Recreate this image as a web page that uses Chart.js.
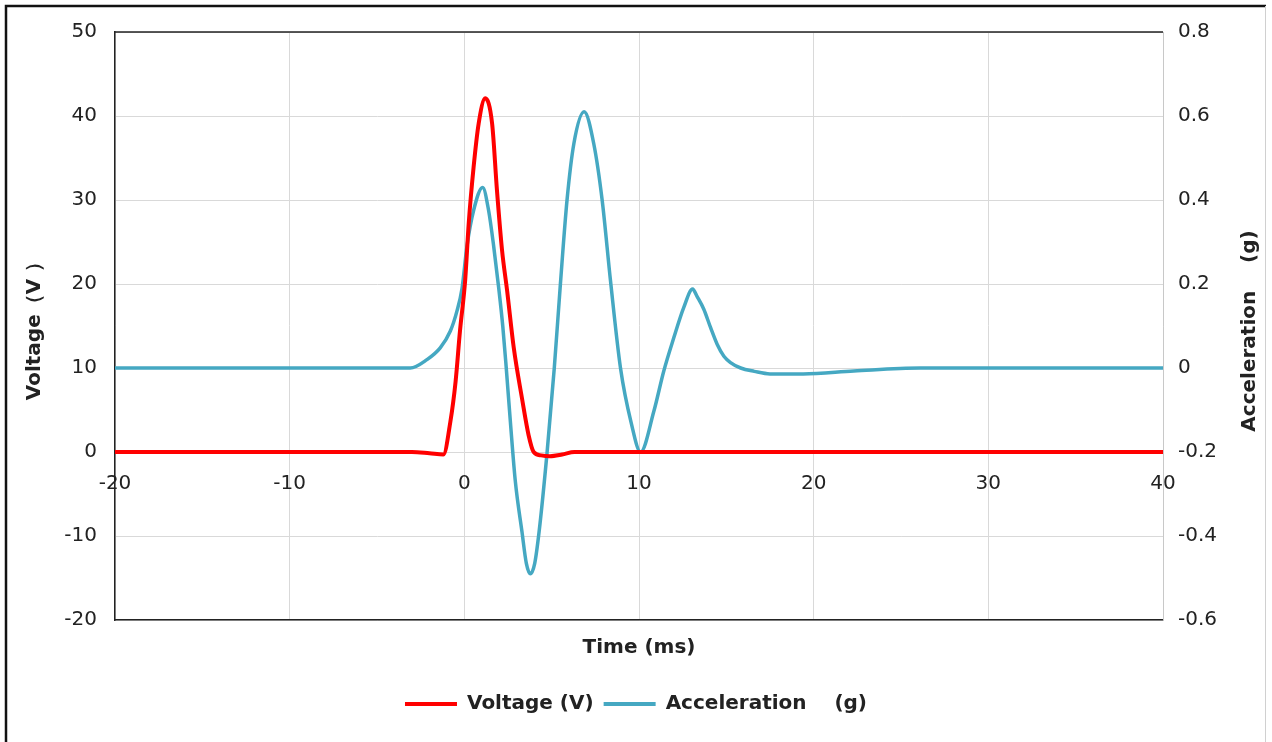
<!DOCTYPE html>
<html><head><meta charset="utf-8">
<script src="https://cdn.jsdelivr.net/npm/chart.js@4/dist/chart.umd.min.js"></script>
<style>html,body{margin:0;padding:0;background:#fff;}canvas{display:block}</style>
</head><body>
<canvas id="c" width="1272" height="742"></canvas>
<script>
// ---- data ----
const voltageTime   = [-20, -3, -2, -1.2, -0.8, -0.5, -0.25, 0.05, 0.25, 0.53, 0.82, 1.2, 1.59, 1.87, 2.16, 2.45, 2.83, 3.3, 3.68, 3.97, 4.4, 4.9, 5.6, 6.3, 40];
const voltageValues = [0, 0, -0.15, -0.3, 3.6, 8.4, 14.4, 20.5, 27.2, 33.9, 39.1, 42.1, 39.1, 31.1, 24, 19.2, 12.4, 6.4, 2.0, 0, -0.4, -0.5, -0.3, 0, 0];
const accelTime   = [-20, -3.1, -2.14, -1.38, -0.8, -0.42, -0.13, 0.15, 0.53, 1.05, 1.39, 1.68, 1.97, 2.2, 2.4, 2.64, 2.92, 3.3, 3.55, 3.78, 4.03, 4.28, 4.74, 5.15, 5.5, 5.88, 6.27, 6.86, 7.41, 7.89, 8.37, 8.94, 9.55, 10.09, 10.85, 11.42, 12.0, 12.57, 13.07, 13.33, 13.71, 14.1, 14.48, 14.86, 15.24, 15.82, 16.6, 17.5, 19.4, 22.3, 26.1, 40];
const accelValues = [0, 0, 0.02, 0.048, 0.088, 0.136, 0.19, 0.29, 0.375, 0.43, 0.375, 0.29, 0.19, 0.1, 0.0, -0.13, -0.27, -0.39, -0.465, -0.49, -0.465, -0.39, -0.2, 0, 0.2, 0.4, 0.534, 0.61, 0.534, 0.4, 0.207, 0, -0.13, -0.2, -0.103, -0.007, 0.073, 0.145, 0.188, 0.17, 0.14, 0.096, 0.056, 0.028, 0.013, 0.0, -0.008, -0.014, -0.014, -0.007, 0, 0];
const timeTicks    = [-20, -10, 0, 10, 20, 30, 40];
const voltageTicks = [-20, -10, 0, 10, 20, 30, 40, 50];
const accelTicks   = [-0.6, -0.4, -0.2, 0, 0.2, 0.4, 0.6, 0.8];
const seriesNames  = ['Voltage (V)', 'Acceleration    (g)'];
const axisTitles   = { x: 'Time (ms)', y: 'Voltage（V ）', y2: 'Acceleration    (g)' };

const RED = '#ff0000', TEAL = '#45a8c2';
const FONT = 'DejaVu Sans';
const step = a => a[1] - a[0];

const framePlugin = {
  id: 'frame',
  beforeDraw(chart) {
    const ctx = chart.ctx;
    ctx.save();
    ctx.fillStyle = '#fff';
    ctx.fillRect(0, 0, chart.width, chart.height);
    ctx.strokeStyle = '#111';
    ctx.lineWidth = 2.5;
    ctx.beginPath();
    ctx.moveTo(6, 742); ctx.lineTo(6, 6); ctx.lineTo(1266, 6);
    ctx.stroke();
    ctx.strokeStyle = '#d0d0d0';
    ctx.lineWidth = 1;
    ctx.beginPath();
    ctx.moveTo(1265.5, 6); ctx.lineTo(1265.5, 742);
    ctx.stroke();
    ctx.restore();
  },
  afterDraw(chart) {
    const ctx = chart.ctx, a = chart.chartArea;
    ctx.save();
    ctx.strokeStyle = '#222';
    ctx.lineWidth = 1.5;
    ctx.beginPath();
    ctx.moveTo(a.left, a.top); ctx.lineTo(a.right, a.top);
    ctx.stroke();
    // right axis title (reads bottom to top)
    ctx.translate(1250, (a.top + a.bottom) / 2 + 5);
    ctx.rotate(-Math.PI / 2);
    ctx.fillStyle = '#222';
    ctx.font = 'bold 20px "' + FONT + '"';
    ctx.textAlign = 'center';
    ctx.textBaseline = 'middle';
    ctx.fillText(axisTitles.y2, 0, 0);
    ctx.restore();
  }
};

new Chart(document.getElementById('c'), {
  type: 'line',
  data: {
    datasets: [
      { label: seriesNames[0], data: voltageTime.map((t, i) => ({ x: t, y: voltageValues[i] })),
        borderColor: RED, backgroundColor: RED, borderWidth: 4, pointRadius: 0,
        cubicInterpolationMode: 'monotone', xAxisID: 'x', yAxisID: 'y' },
      { label: seriesNames[1], data: accelTime.map((t, i) => ({ x: t, y: accelValues[i] })),
        borderColor: TEAL, backgroundColor: TEAL, borderWidth: 3.5, pointRadius: 0,
        cubicInterpolationMode: 'monotone', xAxisID: 'x', yAxisID: 'y2' }
    ]
  },
  options: {
    responsive: false, animation: false, devicePixelRatio: 1,
    layout: { padding: { left: 0, right: 0, top: 32, bottom: 18 } },
    plugins: {
      tooltip: { enabled: false },
      legend: {
        position: 'bottom',
        labels: {
          color: '#222', font: { family: FONT, size: 20, weight: 'bold' },
          boxWidth: 52, boxHeight: 4, padding: 10,
          generateLabels(chart) {
            return Chart.defaults.plugins.legend.labels.generateLabels(chart).map(it => Object.assign(it, { lineWidth: 0, fillStyle: it.strokeStyle }));
          }
        }
      }
    },
    scales: {
      x: {
        type: 'linear', position: 'bottom',
        min: timeTicks[0], max: timeTicks[timeTicks.length - 1],
        ticks: { display: false, stepSize: step(timeTicks) },
        grid: { color: '#d9d9d9', drawTicks: false },
        border: { color: '#222', width: 1.5 },
        title: { display: true, text: axisTitles.x, color: '#222', font: { family: FONT, size: 20, weight: 'bold' }, padding: { top: 0, bottom: 24 } },
        afterFit(s) { s.height = 64; }
      },
      xt: {
        type: 'linear', position: { y: 0 },
        min: timeTicks[0], max: timeTicks[timeTicks.length - 1],
        ticks: { stepSize: step(timeTicks), color: '#222', font: { family: FONT, size: 20 }, padding: 20, maxRotation: 0 },
        grid: { display: false, drawTicks: false },
        border: { display: false }
      },
      y: {
        type: 'linear', position: 'left',
        min: voltageTicks[0], max: voltageTicks[voltageTicks.length - 1],
        ticks: { stepSize: step(voltageTicks), color: '#222', font: { family: FONT, size: 20 }, padding: 18 },
        grid: { color: '#d9d9d9', drawTicks: false },
        border: { color: '#222', width: 1.5 },
        title: { display: true, text: axisTitles.y, color: '#222', font: { family: FONT, size: 20, weight: 'bold' }, padding: { top: 23, bottom: 0 } },
        afterFit(s) { s.width = 115; }
      },
      y2: {
        type: 'linear', position: 'right',
        min: accelTicks[0], max: accelTicks[accelTicks.length - 1],
        ticks: { stepSize: 0.2, color: '#222', font: { family: FONT, size: 20 }, padding: 15,
          callback: v => String(Number(v.toFixed(1))) },
        grid: { display: false, drawTicks: false },
        border: { color: '#c8c8c8', width: 1 },
        afterFit(s) { s.width = 109; }
      }
    }
  },
  plugins: [framePlugin]
});
</script>
</body></html>
